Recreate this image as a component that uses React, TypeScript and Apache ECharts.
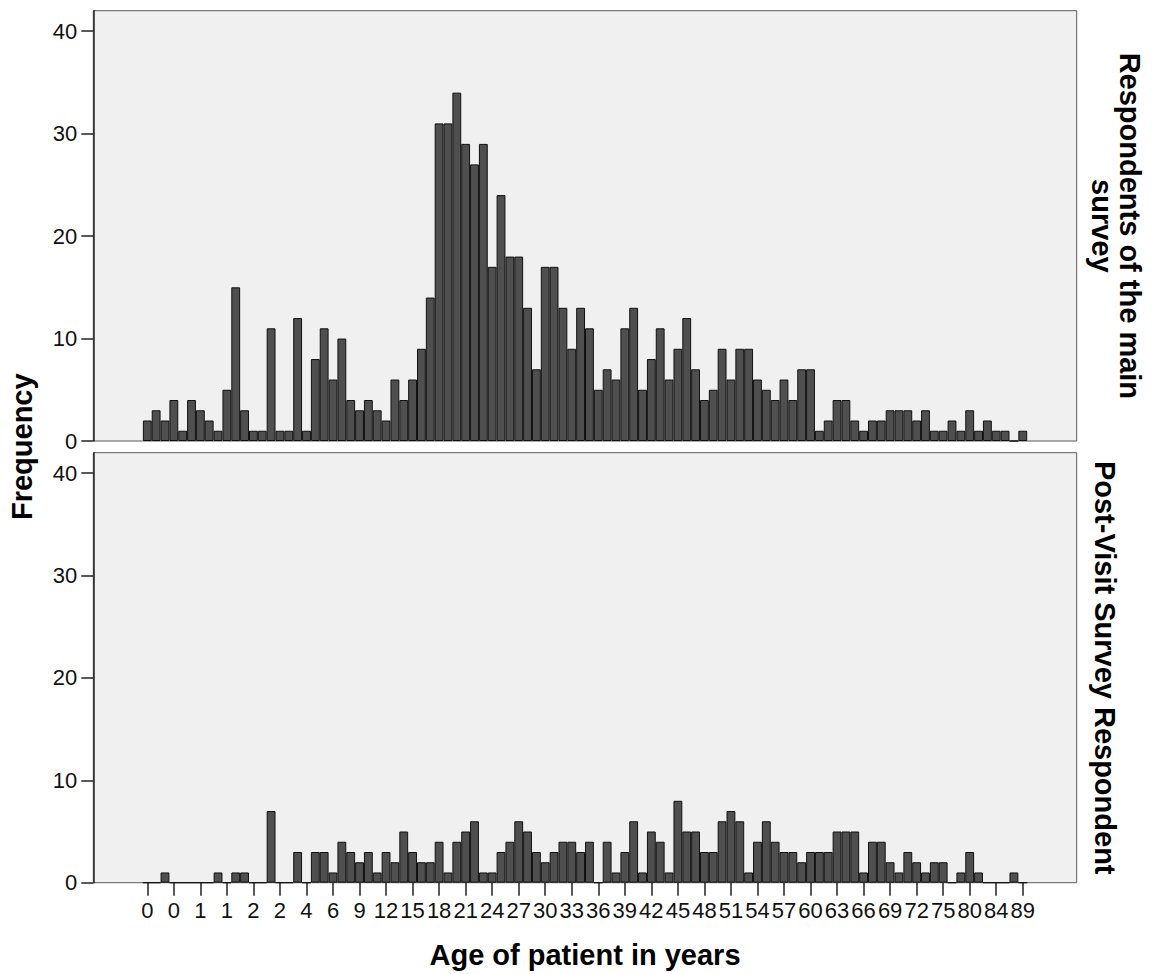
import React, { useEffect, useRef } from 'react';
import * as echarts from 'echarts';

// Tick labels shown under every third age category
const ageTickLabels = ['0', '0', '1', '1', '2', '2', '4', '6', '9', '12', '15', '18', '21', '24', '27', '30', '33', '36', '39', '42', '45', '48', '51', '54', '57', '60', '63', '66', '69', '72', '75', '80', '84', '89'];

// Respondents of the main survey (one value per age category)
const mainSurveyCounts = [
  2, 3, 2, 4, 1, 4, 3, 2, 1, 5,
  15, 3, 1, 1, 11, 1, 1, 12, 1, 8,
  11, 6, 10, 4, 3, 4, 3, 2, 6, 4,
  6, 9, 14, 31, 31, 34, 29, 27, 29, 17,
  24, 18, 18, 13, 7, 17, 17, 13, 9, 13,
  11, 5, 7, 6, 11, 13, 5, 8, 11, 6,
  9, 12, 7, 4, 5, 9, 6, 9, 9, 6,
  5, 4, 6, 4, 7, 7, 1, 2, 4, 4,
  2, 1, 2, 2, 3, 3, 3, 2, 3, 1,
  1, 2, 1, 3, 1, 2, 1, 1, 0, 1,
];

// Post-Visit Survey Respondent (one value per age category)
const postVisitCounts = [
  0, 0, 1, 0, 0, 0, 0, 0, 1, 0,
  1, 1, 0, 0, 7, 0, 0, 3, 0, 3,
  3, 1, 4, 3, 2, 3, 1, 3, 2, 5,
  3, 2, 2, 4, 1, 4, 5, 6, 1, 1,
  3, 4, 6, 5, 3, 2, 3, 4, 4, 3,
  4, 0, 4, 1, 3, 6, 1, 5, 4, 1,
  8, 5, 5, 3, 3, 6, 7, 6, 1, 4,
  6, 4, 3, 3, 2, 3, 3, 3, 5, 5,
  5, 1, 4, 4, 2, 1, 3, 2, 1, 2,
  2, 0, 1, 3, 1, 0, 0, 0, 1, 0,
];

const frequencyTicks = [0, 10, 20, 30, 40];

const panelTitles = ['Respondents of the main\nsurvey', 'Post-Visit Survey Respondent'];
const xTitle = 'Age of patient in years';
const yTitle = 'Frequency';

const FONT = '"Liberation Sans", Arial, Helvetica, sans-serif';

export default function App() {
  const ref = useRef<HTMLDivElement>(null);

  useEffect(() => {
    if (!ref.current) return;
    const chart = echarts.init(ref.current, undefined, { renderer: 'svg' });

    const frameLeft = 93.3;
    const frameRight = 1076.7;
    const panels = [
      { top: 10.7, bottom: 441 },
      { top: 452.7, bottom: 882.7 },
    ];
    const n = mainSurveyCounts.length;
    const catW = 8.843;
    const firstCenter = 147.3;
    const barLeft = firstCenter - catW / 2;
    const barW = catW * n;
    const yOffset = barLeft - frameLeft;

    const categories = mainSurveyCounts.map((_, i) => (i % 3 === 0 ? ageTickLabels[i / 3] : ''));

    const grids: any[] = [];
    const xAxes: any[] = [];
    const yAxes: any[] = [];
    const series: any[] = [];
    const datasets = [mainSurveyCounts, postVisitCounts];

    panels.forEach((p, pi) => {
      const h = p.bottom - p.top;
      const frameIdx = pi * 2;
      const barIdx = pi * 2 + 1;
      grids.push({
        left: frameLeft,
        top: p.top,
        width: frameRight - frameLeft,
        height: h,
        show: true,
        backgroundColor: '#f0f0f0',
        borderColor: '#5a5a5a',
        borderWidth: 1,
        containLabel: false,
      });
      grids.push({
        left: barLeft,
        top: p.top,
        width: barW,
        height: h,
        show: false,
        containLabel: false,
      });
      xAxes.push({ gridIndex: frameIdx, type: 'value', show: false, min: 0, max: 1 });
      yAxes.push({ gridIndex: frameIdx, type: 'value', show: false, min: 0, max: 1 });
      const isBottom = pi === 1;
      xAxes.push({
        gridIndex: barIdx,
        type: 'category',
        data: categories,
        boundaryGap: true,
        axisLine: { show: false },
        axisTick: {
          show: isBottom,
          interval: 2,
          alignWithLabel: true,
          length: 13,
          lineStyle: { color: '#222', width: 1.5 },
        },
        axisLabel: {
          show: isBottom,
          interval: 2,
          fontSize: 22,
          color: '#111',
          fontFamily: FONT,
          margin: 17,
        },
        splitLine: { show: false },
      });
      yAxes.push({
        gridIndex: barIdx,
        type: 'value',
        min: 0,
        max: 42,
        interval: 10,
        offset: yOffset,
        axisLine: { show: true, onZero: false, lineStyle: { color: '#222', width: 1.5 } },
        axisTick: { show: true, length: 12, customValues: frequencyTicks, lineStyle: { color: '#222', width: 1.5 } },
        axisLabel: {
          fontSize: 22,
          color: '#111',
          fontFamily: FONT,
          margin: 16,
          customValues: frequencyTicks,
        },
        splitLine: { show: false },
      });
      series.push({
        type: 'bar',
        xAxisIndex: barIdx,
        yAxisIndex: barIdx,
        data: datasets[pi],
        barCategoryGap: '0%',
        itemStyle: { color: '#4f4f4f', borderColor: '#111', borderWidth: 1 },
        silent: true,
      });
    });

    const titleFont = (size: number) => ({
      fontSize: size,
      fontWeight: 'bold',
      fontFamily: FONT,
      fill: '#000',
      align: 'center',
      verticalAlign: 'middle',
      textAlign: 'center',
      textVerticalAlign: 'middle',
    });

    chart.setOption({
      animation: false,
      backgroundColor: '#ffffff',
      grid: grids,
      xAxis: xAxes,
      yAxis: yAxes,
      series,
      graphic: [
        {
          type: 'text',
          x: 22,
          y: (panels[0].top + panels[1].bottom) / 2,
          rotation: Math.PI / 2,
          style: { text: yTitle, ...titleFont(29) },
        },
        {
          type: 'text',
          x: (frameLeft + frameRight) / 2,
          y: 955,
          style: { text: xTitle, ...titleFont(29) },
        },
        {
          type: 'text',
          x: 1116,
          y: (panels[0].top + panels[0].bottom) / 2,
          rotation: -Math.PI / 2,
          style: { text: panelTitles[0], lineHeight: 28, ...titleFont(29) },
        },
        {
          type: 'text',
          x: 1105,
          y: (panels[1].top + panels[1].bottom) / 2,
          rotation: -Math.PI / 2,
          style: { text: panelTitles[1], ...titleFont(29) },
        },
      ],
    });

    return () => {
      chart.dispose();
    };
  }, []);

  return (
    <div
      ref={ref}
      style={{ position: 'fixed', left: 0, top: 0, width: 1165, height: 974, background: '#fff' }}
    />
  );
}
